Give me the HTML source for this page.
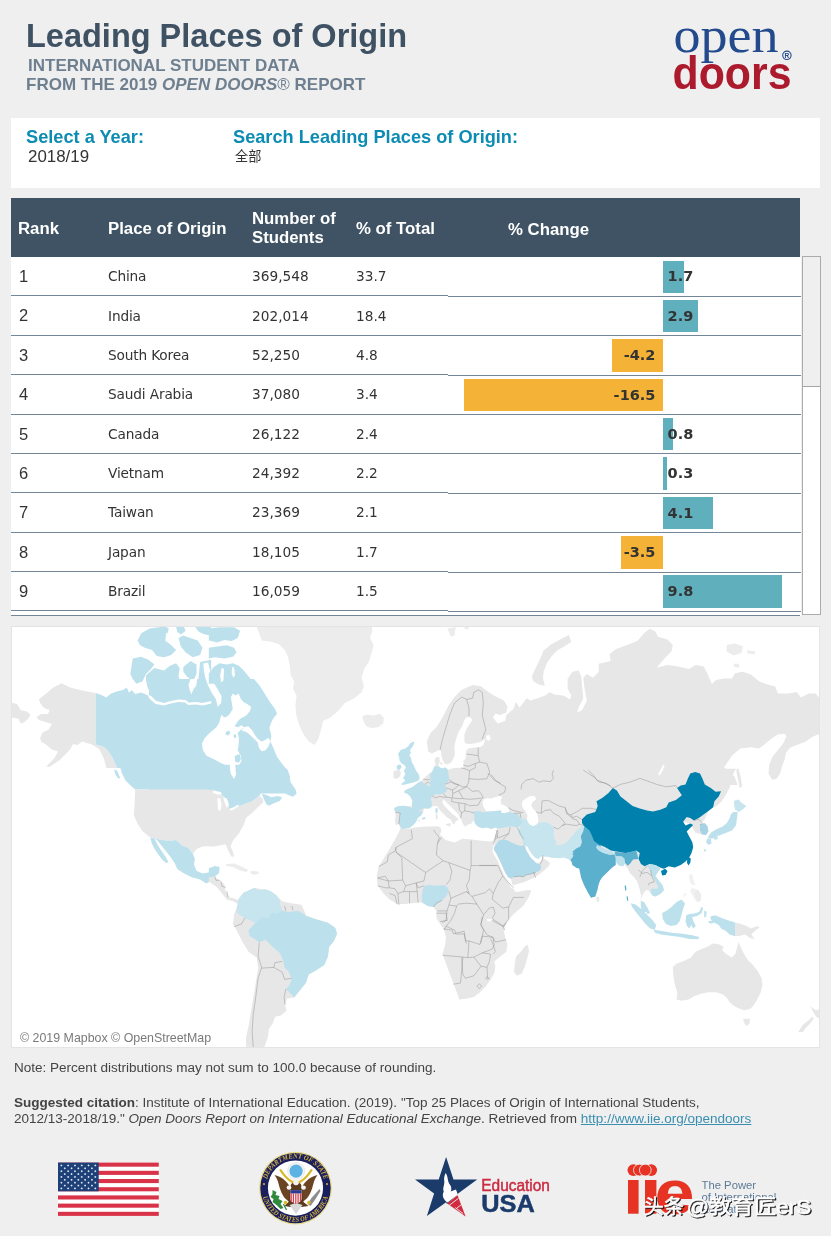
<!DOCTYPE html>
<html lang="en">
<head>
<meta charset="utf-8">
<title>Leading Places of Origin</title>
<style>
*{box-sizing:border-box;margin:0;padding:0}
html,body{width:831px;height:1236px;overflow:hidden;background:#efefef}
body{position:relative;font-family:"Liberation Sans","Noto Sans CJK SC",sans-serif;color:#333}
.abs{position:absolute;white-space:nowrap}
#title{left:26px;top:17px;font-size:32.5px;font-weight:bold;color:#3f5264;line-height:38px}
#sub1{left:28px;top:56.5px;font-size:17px;font-weight:bold;color:#6e7f8f;line-height:18px;white-space:pre}
#sub2{left:26px;top:75.6px;font-size:17px;font-weight:bold;color:#6e7f8f;line-height:18px}
#sub2 i{font-style:italic}
#sub2 .reg{font-weight:normal}
#filters{left:11px;top:118px;width:809px;height:70px;background:#fff}
.flabel{font-size:18.2px;font-weight:bold;color:#0d8cb3;line-height:20px}
.fval{font-size:16.9px;color:#333;line-height:18px}
#thead{left:11px;top:198px;width:789px;height:59px;background:#3f5364}
.th{color:#fff;font-weight:bold;font-size:16.8px;line-height:19px}
#tbody{left:11px;top:257px;width:790px;height:358.7px;background:#fff;overflow:hidden}
.row{position:absolute;left:0;width:789px;height:39px}
.row .rk{position:absolute;left:8px;top:9.2px;font-size:16.5px;line-height:20px;color:#333}
.row .c{position:absolute;top:10.3px;font-family:"DejaVu Sans","Liberation Sans",sans-serif;font-size:13.7px;line-height:18px;color:#333}
.hl{position:absolute;height:1px;background:#748595}
.row .nm{letter-spacing:-0.15px}
.bar{position:absolute;height:32.4px}
.bar.t{background:#5fafbc}
.bar.o{background:#f4b336}
.bl{position:absolute;font-family:"DejaVu Sans","Liberation Sans",sans-serif;font-weight:bold;font-size:14.5px;line-height:18px;color:#333}
#scroll{left:802px;top:256px;width:19.3px;height:359px;background:#fff;border:1px solid #ababab}
#thumb{left:803px;top:257px;width:17.3px;height:130.4px;background:#efefef;border-bottom:1.4px solid #a4a4a4}
#map{left:11px;top:626px;width:809px;height:422px;background:#fff;border:1px solid #e4e4e4;overflow:hidden}
#attr{left:20px;top:1030.8px;font-size:12.4px;color:#7a7a7a;line-height:14px}
#note{left:14px;top:1060px;font-size:13.52px;color:#444;line-height:16px}
#cite{left:14px;top:1095px;font-size:13.52px;color:#444;line-height:16px}
#cite a{color:#3a8fb0;text-decoration:underline}
</style>
</head>
<body>
<div id="title" class="abs">Leading Places of Origin</div>
<div id="sub1" class="abs">INTERNATIONAL STUDENT DATA</div>
<div id="sub2" class="abs">FROM THE 2019 <i>OPEN DOORS</i><span class="reg">®</span> REPORT</div>

<!-- LOGO -->
<svg class="abs" style="left:660px;top:15px" width="150" height="85" viewBox="660 15 150 85">
<text x="673.5" y="52.2" font-family="'Liberation Serif',serif" font-size="51" fill="#234a8c" textLength="105" lengthAdjust="spacingAndGlyphs">open</text>
<text x="672.5" y="89" font-family="'Liberation Sans',sans-serif" font-weight="bold" font-size="47" fill="#ab1a2d" textLength="119" lengthAdjust="spacingAndGlyphs">doors</text>
<circle cx="786.9" cy="55.3" r="4.2" fill="none" stroke="#234a8c" stroke-width="1.1"/>
<text x="786.9" y="57.6" font-family="'Liberation Sans',sans-serif" font-weight="bold" font-size="6.5" fill="#234a8c" text-anchor="middle">R</text>
</svg>
<!-- /LOGO -->

<div id="filters" class="abs">
  <div class="abs flabel" style="left:15px;top:9px">Select a Year:</div>
  <div class="abs fval" style="left:17px;top:29.7px">2018/19</div>
  <div class="abs flabel" style="left:222px;top:9px">Search Leading Places of Origin:</div>
  <div class="abs fval" style="left:224px;top:30px;font-size:13.2px">全部</div>
</div>

<div id="thead" class="abs">
  <div class="abs th" style="left:7px;top:21px">Rank</div>
  <div class="abs th" style="left:97px;top:21px">Place of Origin</div>
  <div class="abs th" style="left:241px;top:11px">Number of<br>Students</div>
  <div class="abs th" style="left:345px;top:21px">% of Total</div>
  <div class="abs th" style="left:497px;top:22px">% Change</div>
</div>

<div id="tbody" class="abs">
<!-- ROWS -->
<div class="row" style="top:-0.1px"><span class="rk">1</span><span class="c nm" style="left:97px">China</span><span class="c" style="left:241px">369,548</span><span class="c" style="left:345px">33.7</span><span class="bar t" style="left:652.0px;top:3.6px;width:20.6px"></span><span class="bl" style="left:656.6px;top:10.5px">1.7</span></div>
<div class="row" style="top:39.27px"><span class="rk">2</span><span class="c nm" style="left:97px">India</span><span class="c" style="left:241px">202,014</span><span class="c" style="left:345px">18.4</span><span class="bar t" style="left:652.0px;top:3.6px;width:35.1px"></span><span class="bl" style="left:656.6px;top:10.5px">2.9</span></div>
<div class="row" style="top:78.65px"><span class="rk">3</span><span class="c nm" style="left:97px">South Korea</span><span class="c" style="left:241px">52,250</span><span class="c" style="left:345px">4.8</span><span class="bar o" style="left:601.2px;top:3.6px;width:50.8px"></span><span class="bl" style="right:144.6px;top:10.5px">-4.2</span></div>
<div class="row" style="top:118.02px"><span class="rk">4</span><span class="c nm" style="left:97px">Saudi Arabia</span><span class="c" style="left:241px">37,080</span><span class="c" style="left:345px">3.4</span><span class="bar o" style="left:452.5px;top:3.6px;width:199.5px"></span><span class="bl" style="right:144.6px;top:10.5px">-16.5</span></div>
<div class="row" style="top:157.4px"><span class="rk">5</span><span class="c nm" style="left:97px">Canada</span><span class="c" style="left:241px">26,122</span><span class="c" style="left:345px">2.4</span><span class="bar t" style="left:652.0px;top:3.6px;width:9.7px"></span><span class="bl" style="left:656.6px;top:10.5px">0.8</span></div>
<div class="row" style="top:196.77px"><span class="rk">6</span><span class="c nm" style="left:97px">Vietnam</span><span class="c" style="left:241px">24,392</span><span class="c" style="left:345px">2.2</span><span class="bar t" style="left:652.0px;top:3.6px;width:3.6px"></span><span class="bl" style="left:656.6px;top:10.5px">0.3</span></div>
<div class="row" style="top:236.15px"><span class="rk">7</span><span class="c nm" style="left:97px">Taiwan</span><span class="c" style="left:241px">23,369</span><span class="c" style="left:345px">2.1</span><span class="bar t" style="left:652.0px;top:3.6px;width:49.6px"></span><span class="bl" style="left:656.6px;top:10.5px">4.1</span></div>
<div class="row" style="top:275.52px"><span class="rk">8</span><span class="c nm" style="left:97px">Japan</span><span class="c" style="left:241px">18,105</span><span class="c" style="left:345px">1.7</span><span class="bar o" style="left:609.7px;top:3.6px;width:42.3px"></span><span class="bl" style="right:144.6px;top:10.5px">-3.5</span></div>
<div class="row" style="top:314.9px"><span class="rk">9</span><span class="c nm" style="left:97px">Brazil</span><span class="c" style="left:241px">16,059</span><span class="c" style="left:345px">1.5</span><span class="bar t" style="left:652.0px;top:3.6px;width:118.5px"></span><span class="bl" style="left:656.6px;top:10.5px">9.8</span></div>
<div class="hl" style="left:0;width:437px;top:38.0px"></div><div class="hl" style="left:437px;width:352.5px;top:39.0px"></div>
<div class="hl" style="left:0;width:437px;top:78.0px"></div><div class="hl" style="left:437px;width:352.5px;top:78.0px"></div>
<div class="hl" style="left:0;width:437px;top:117.0px"></div><div class="hl" style="left:437px;width:352.5px;top:118.0px"></div>
<div class="hl" style="left:0;width:437px;top:156.5px"></div><div class="hl" style="left:437px;width:352.5px;top:157.0px"></div>
<div class="hl" style="left:0;width:437px;top:196.0px"></div><div class="hl" style="left:437px;width:352.5px;top:196.0px"></div>
<div class="hl" style="left:0;width:437px;top:235.0px"></div><div class="hl" style="left:437px;width:352.5px;top:236.0px"></div>
<div class="hl" style="left:0;width:437px;top:275.0px"></div><div class="hl" style="left:437px;width:352.5px;top:275.0px"></div>
<div class="hl" style="left:0;width:437px;top:314.0px"></div><div class="hl" style="left:437px;width:352.5px;top:314.5px"></div>
<div class="hl" style="left:0;width:437px;top:353.0px"></div><div class="hl" style="left:437px;width:352.5px;top:354.0px"></div>
<div class="hl" style="left:0;width:789px;top:357.70000000000005px"></div>
<!-- /ROWS -->
</div>
<div id="scroll" class="abs"></div>
<div id="thumb" class="abs"></div>

<div id="map" class="abs">
<!-- MAP -->
<svg width="807" height="420" viewBox="12 627 807 420" style="position:absolute;left:0;top:0;filter:blur(0.4px)">
<g stroke-linejoin="round">
<path fill="#e7e7e7" d="M38.9,699.4 46.1,693.4 53.3,687.4 61.7,683.3 70.2,687.4 82.2,690.5 95.7,692.9 95.7,744.4 102.7,746.3 107.5,749.9 112.3,757.2 117.1,768.0 106.3,768.0 103.9,758.4 99.0,748.7 91.8,744.4 82.2,741.5 77.4,745.1 73.1,743.9 70.2,749.2 65.8,754.0 59.3,760.3 49.7,766.8 46.1,766.8 54.5,757.9 58.1,751.6 51.4,749.2 46.1,744.4 41.3,742.0 40.1,737.9 42.5,732.4 48.5,729.5 52.1,724.0 46.1,722.3 38.9,719.9 36.5,717.0 41.3,714.1 48.0,714.1 49.7,710.2 43.7,707.8 40.1,703.0ZM10.0,701.8 17.2,704.2 20.8,710.2 26.8,711.4 30.5,715.0 28.1,718.7 24.4,722.3 20.8,723.5 18.4,718.7 12.4,717.5 10.0,717.5Z"/>
<path fill="#bde1ec" d="M95.7,692.9 101.5,695.1 106.3,697.5 111.1,693.4 118.3,691.0 123.1,690.0 126.7,687.4 129.1,692.7 131.5,690.0 135.2,693.9 141.2,692.4 147.2,695.1 152.0,698.7 156.8,703.5 164.0,702.1 168.8,699.6 176.1,697.2 179.7,701.1 185.7,703.5 191.7,698.7 196.5,695.1 200.1,698.7 202.5,701.1 211.2,698.2 211.2,741.5 202.5,739.1 200.1,746.3 202.5,753.6 211.2,757.9 211.2,768.0 117.1,768.0 112.3,757.2 107.5,749.9 102.7,746.3 95.7,744.4ZM132.7,658.5 141.2,656.8 148.4,659.7 154.4,664.5 150.8,669.3 146.0,674.1 142.4,681.4 136.4,683.8 132.7,678.9 130.3,674.1 131.5,665.7ZM146.0,675.3 154.4,668.1 164.0,670.5 170.0,665.7 176.1,663.3 179.7,668.1 178.5,676.5 182.1,683.8 188.1,689.8 186.9,695.8 178.5,697.0 170.0,698.2 164.0,700.6 156.8,698.2 150.8,694.6 147.2,686.2 146.0,680.2ZM137.6,640.4 141.2,633.2 149.6,628.4 159.2,627.2 166.4,633.2 165.2,640.4 171.3,645.3 176.1,650.1 171.3,654.9 164.0,657.3 156.8,656.1 152.0,650.1 144.8,647.7 140.0,645.3ZM178.5,638.0 183.3,635.6 190.5,638.0 197.7,640.4 202.5,647.7 200.1,654.9 192.9,657.3 185.7,652.5 180.9,646.5ZM159.2,627.2 164.0,626.0 168.8,628.4 167.6,633.2 164.0,632.0ZM176.1,627.2 183.3,626.0 185.7,630.8 180.9,634.4 177.3,632.0ZM195.3,627.2 202.5,626.0 211.2,627.2 211.2,635.6 204.9,634.4 198.9,632.0ZM183.3,666.9 190.5,660.9 196.5,664.5 196.5,674.1 192.9,681.4 186.9,676.5 183.3,671.7ZM200.1,662.1 211.2,659.7 211.2,697.0 202.5,693.4 197.7,686.2 198.9,674.1ZM149.0,679.0 254.0,679.0 259.7,685.8 264.6,693.5 269.4,701.2 275.1,708.9 277.1,713.7 273.2,718.5 270.9,723.3 269.4,728.1 271.3,735.8 270.3,741.6 273.2,747.4 277.1,757.0 282.8,764.7 287.7,770.5 289.6,776.3 290.5,782.0 294.4,787.8 296.3,793.6 149.0,793.6Z"/>
<path fill="#ffffff" d="M220.3,718.5 221.6,714.7 224.1,717.5 227.0,719.5 230.9,723.3 234.7,726.2 237.6,727.2 241.5,725.2 244.3,727.2 240.5,730.1 237.6,732.9 238.9,737.8 238.6,745.5 237.6,750.3 240.5,755.1 241.5,760.9 238.6,765.7 235.7,770.5 236.6,776.3 234.7,780.1 230.9,775.3 229.9,770.5 227.0,765.7 220.3,762.8 213.5,758.9 206.8,756.0 202.9,750.3 202.0,743.5 204.9,737.8 209.7,732.9 216.4,727.2 219.3,722.4ZM227.0,716.6 229.9,713.7 232.8,708.9 231.8,703.1 230.9,697.3 232.8,693.5 235.7,695.4 238.6,693.5 240.5,698.3 243.4,702.1 247.2,704.1 251.1,707.0 250.1,710.8 246.3,715.6 240.5,718.5 237.6,721.4 234.7,726.2 230.9,723.3 227.0,719.5 224.1,717.5ZM244.3,727.2 248.2,726.2 252.0,730.1 254.9,734.9 257.8,738.7 261.7,741.6 265.5,739.7 268.4,737.8 270.3,741.6 268.4,746.4 265.5,750.3 261.7,751.2 258.8,747.4 257.8,742.6 254.0,738.7 250.1,734.9 246.3,732.0 241.5,730.4ZM203.3,663.4 208.1,662.5 210.5,672.1 213.0,681.7 217.8,689.4 221.6,696.2 221.2,702.9 217.8,706.8 215.8,699.1 212.0,693.3 208.1,685.6 205.3,677.9 203.9,670.2ZM190.4,679.0 197.2,679.0 196.2,685.8 193.3,689.6 191.4,694.4 189.5,689.6 188.5,684.8ZM147.7,695.3 150.8,695.8 156.3,701.1 164.0,703.0 170.8,701.1 178.5,699.6 185.7,700.1 188.6,702.5 196.5,702.1 202.5,703.0 211.2,701.1 211.2,703.5 202.5,705.4 196.5,704.5 188.1,704.9 185.2,702.5 178.5,702.1 170.8,703.5 164.0,705.4 155.6,704.0 149.6,698.7Z"/>
<path fill="#bde1ec" d="M226.0,732.0 228.9,730.4 230.5,732.9 228.0,735.4 225.5,734.5ZM233.4,734.9 235.7,733.9 236.3,737.4 234.1,738.3ZM234.7,756.0 239.5,754.1 240.9,758.9 238.9,762.8 235.1,761.8Z"/>
<path fill="#ececec" d="M371.3,624.8 372.5,630.8 370.0,638.0 373.7,645.3 371.7,652.5 368.8,662.1 364.0,669.3 361.6,677.7 364.0,686.2 361.6,692.2 354.4,698.2 344.8,703.0 337.6,711.4 330.3,717.5 323.1,721.1 321.2,729.5 318.3,739.1 314.7,745.1 308.7,741.5 304.3,735.5 299.5,725.9 296.2,715.0 295.4,705.4 296.6,695.8 293.0,688.6 294.2,681.4 290.6,675.3 289.9,666.9 288.2,657.3 284.6,650.1 278.6,644.1 270.2,641.6 261.7,640.4 259.3,633.2 255.7,624.8ZM362.1,716.3 366.4,714.6 373.7,715.5 379.7,713.8 383.8,717.5 383.3,723.5 378.5,727.1 371.3,728.3 366.0,725.9 363.5,721.1Z"/>
<path fill="#bde1ec" d="M208.8,628.4 219.6,627.2 234.1,627.2 240.1,630.8 237.7,638.0 231.7,640.9 224.4,640.0 217.2,642.4 208.8,640.4ZM208.8,647.7 217.2,646.5 226.8,645.3 234.1,647.7 236.5,652.5 232.9,656.8 224.4,658.5 214.8,657.3 208.8,658.5ZM208.8,674.1 211.2,670.5 213.6,666.9 219.6,663.3 226.8,664.5 232.9,663.3 238.9,665.7 243.7,670.5 249.7,677.7 254.5,683.8 208.8,683.8Z"/>
<path fill="#ffffff" d="M221.6,668.1 224.0,668.8 223.5,680.2 221.1,682.6 220.1,675.3ZM232.1,666.9 234.1,667.4 235.0,675.3 233.1,677.7 231.7,672.9Z"/>
<path fill="#bde1ec" d="M211.2,764.8 211.2,792.0 204.9,791.3 200.1,789.6 135.2,789.6 130.3,785.3 125.5,780.4 121.9,773.2 119.5,764.8ZM114.0,769.6 117.1,770.8 120.2,778.0 118.3,778.5 115.4,774.4Z"/>
<path fill="#e7e7e7" d="M211.2,789.6 211.2,846.1 202.5,846.6 196.5,849.0 192.9,853.8 188.1,847.8 182.1,845.4 176.1,840.1 168.8,841.1 159.2,839.4 149.6,837.0 142.4,831.0 137.6,823.8 133.9,815.3 134.7,802.1 135.2,789.6Z"/>
<path fill="#bde1ec" d="M154.4,838.2 159.2,839.4 168.8,841.1 176.1,840.1 182.1,845.4 188.1,847.8 192.9,853.8 194.8,858.7 194.1,864.7 196.5,870.7 202.5,873.6 211.2,871.9 211.2,881.0 206.1,883.4 200.1,879.6 191.7,877.2 183.3,873.1 177.3,869.0 174.9,863.5 170.0,856.3 165.2,850.2 160.4,844.2 157.3,840.6ZM150.3,837.5 154.4,838.2 157.3,844.2 161.1,850.2 165.2,856.3 168.4,861.8 166.4,863.2 162.1,859.4 157.3,853.1 153.9,847.8 151.5,842.5ZM208.8,764.8 229.7,764.8 230.5,773.2 234.1,779.2 236.0,774.4 235.3,764.8 279.8,764.8 283.4,767.2 287.5,769.6 289.9,776.8 287.5,782.4 282.2,784.8 278.6,788.1 272.6,786.5 266.6,788.1 261.7,792.0 259.3,796.1 252.1,801.6 243.7,804.5 237.7,806.9 232.9,810.5 229.3,809.3 228.1,802.1 224.4,797.3 219.6,793.7 214.8,790.1 208.8,790.1ZM282.2,784.1 285.8,781.6 290.6,785.3 295.4,788.9 296.6,793.7 293.0,796.8 288.2,794.9 283.4,792.5 281.0,788.9ZM261.7,793.7 266.6,794.9 271.4,797.3 277.4,796.1 282.2,797.3 279.8,800.9 273.8,803.3 269.0,805.7 266.6,804.5 264.2,799.7Z"/>
<path fill="#e7e7e7" d="M208.8,790.1 214.8,790.1 219.6,793.7 224.4,797.3 228.1,802.1 229.3,809.3 232.9,810.5 237.7,806.9 243.7,804.5 252.1,801.6 259.3,796.1 262.5,798.5 263.4,802.1 258.1,806.9 252.1,812.9 246.1,817.7 243.7,825.0 238.9,833.4 232.9,840.6 230.5,846.6 232.9,851.4 234.1,856.3 231.7,857.0 228.1,850.2 225.6,844.2 219.6,845.4 213.6,846.6 208.8,846.6Z"/>
<path fill="#ffffff" d="M213.6,790.8 220.8,792.0 222.0,794.4 217.2,794.4 212.9,793.0ZM217.2,798.5 220.1,797.8 221.6,804.5 220.6,810.5 218.2,810.5 217.7,804.5ZM223.2,797.3 226.8,798.5 228.8,804.5 226.8,808.1 224.4,802.1ZM229.7,808.8 234.1,806.9 238.4,804.5 238.9,806.0 234.1,809.3 230.7,810.8Z"/>
<path fill="#ececec" d="M225.6,864.2 234.1,863.5 241.3,866.6 248.5,870.0 246.1,871.9 238.9,870.0 232.9,867.1 226.8,865.9ZM250.9,870.7 258.1,871.4 259.3,873.8 253.3,874.8 250.4,873.1Z"/>
<path fill="#bde1ec" d="M208.8,868.3 214.8,865.9 219.6,867.1 219.1,873.1 214.8,876.7 208.8,877.2Z"/>
<path fill="#e7e7e7" d="M208.8,877.2 214.8,876.7 219.6,880.3 224.4,883.9 225.6,891.2 229.3,897.2 234.1,898.4 240.1,900.8 238.9,904.4 232.9,901.3 226.8,899.6 222.0,893.6 217.2,887.5 212.4,883.9 208.8,881.5ZM234.1,914.4 237.7,904.8 238.9,898.8 243.7,892.8 254.5,887.9 265.4,889.6 276.2,895.2 282.2,901.2 289.4,903.1 296.6,904.1 301.5,904.8 306.3,915.6 315.9,919.2 327.9,922.8 335.2,927.7 337.1,933.7 333.9,940.9 329.1,946.9 327.9,956.5 324.3,965.0 315.9,970.5 308.7,974.6 305.8,983.0 299.0,991.4 294.2,997.5 287.0,998.7 285.1,1004.7 286.5,1010.7 281.0,1015.5 275.0,1016.7 273.1,1022.7 269.0,1028.7 267.8,1037.2 264.2,1048.0 246.1,1048.0 246.1,1037.2 248.5,1026.3 250.9,1011.9 253.3,997.5 255.7,983.0 258.1,968.6 256.9,957.7 248.5,951.7 242.5,942.1 236.5,930.1 232.9,924.1Z"/>
<path fill="#bde1ec" d="M237.7,904.8 238.9,898.8 243.7,892.8 254.5,887.9 258.1,890.4 265.4,889.6 270.2,891.1 276.2,895.2 279.8,900.7 279.8,904.8 282.2,910.8 289.4,912.0 297.8,910.8 302.7,913.2 306.3,916.1 315.9,919.2 327.9,922.8 335.2,927.7 337.1,933.7 333.9,940.9 329.1,946.9 327.9,956.5 324.3,965.0 315.9,970.5 308.7,974.6 305.8,983.0 299.0,991.4 294.2,997.5 289.4,992.2 285.8,989.0 289.4,985.4 291.8,978.2 288.2,971.0 284.6,967.4 283.4,961.4 279.8,952.9 273.8,948.1 267.8,942.1 265.4,939.7 259.3,942.6 255.7,939.7 249.7,936.1 248.5,930.1 252.1,926.5 255.7,922.8 250.9,920.4 244.9,918.0 240.1,914.4 236.5,912.0Z"/>
<path fill="#e7e7e7" d="M428.1,751.2 426.8,741.5 430.5,733.1 436.5,727.1 442.5,717.5 448.5,705.4 454.5,697.0 461.7,689.8 472.6,685.0 481.0,686.2 487.0,691.0 494.2,695.8 503.9,700.6 507.5,706.6 506.3,712.6 500.3,715.0 495.4,713.8 493.0,717.5 497.8,723.5 505.1,721.1 506.3,715.0 513.5,709.0 515.9,701.8 519.5,707.8 526.7,698.2 530.3,700.6 537.6,698.2 544.8,695.8 549.6,692.2 554.4,694.6 564.0,695.8 570.0,699.4 571.3,695.8 567.6,688.6 567.6,678.9 572.5,671.7 578.5,670.5 581.4,676.5 582.1,686.2 583.3,698.2 578.5,707.8 577.3,712.6 582.1,710.2 586.9,700.6 584.5,688.6 583.3,677.7 586.9,674.1 592.9,677.7 598.9,671.7 602.5,666.9 611.2,663.3 611.2,768.0 462.5,768.0 462.9,764.9 464.4,762.0 465.1,757.6 465.8,753.3 466.6,749.7 469.4,748.3 475.2,747.5 481.0,746.8 483.4,745.1 485.3,739.1 481.0,741.8 475.2,743.2 469.4,743.9 465.1,743.2 464.4,740.3 464.4,734.5 466.6,728.8 469.4,724.4 472.3,720.1 470.2,717.2 466.6,717.2 464.4,720.1 462.2,725.9 458.6,731.7 456.5,737.4 455.0,743.2 454.3,747.5 455.0,753.3 453.6,757.6 451.4,762.0 447.8,764.6 444.2,763.4 442.0,757.6 440.6,749.7 438.9,749.9 431.7,753.6ZM568.8,635.1 571.3,641.9 564.5,646.2 557.8,650.1 552.0,655.8 547.2,662.6 543.8,670.8 542.9,677.7 544.8,685.7 538.8,684.5 533.2,680.9 531.8,676.5 535.2,668.8 540.0,659.2 543.6,650.5 551.3,644.3 560.2,639.5Z"/>
<path fill="#ececec" d="M447.3,628.4 455.7,627.2 454.5,635.6 450.9,636.8ZM464.2,626.5 469.0,626.5 467.8,629.6 464.9,628.9Z"/>
<path fill="#e7e7e7" d="M598.7,663.7 610.8,661.0 609.4,654.3 616.2,648.9 627.0,644.9 637.7,640.8 644.5,632.7 649.9,628.7 655.3,631.4 658.0,636.8 667.4,639.5 672.8,644.9 671.4,651.6 664.7,658.3 656.6,667.8 667.4,665.1 678.2,666.4 688.9,669.1 695.7,665.1 703.8,666.4 707.8,674.5 711.9,684.0 715.9,679.9 724.0,678.6 732.1,678.6 734.8,673.2 742.9,671.8 750.9,674.5 759.0,681.3 765.8,684.0 775.2,686.6 777.9,693.4 788.7,693.4 796.8,692.0 800.8,697.4 808.9,693.4 815.6,693.4 818.9,697.4 823.7,698.8 823.7,732.5 812.9,736.5 804.9,741.9 798.1,744.6 790.0,747.8 786.0,752.7 784.6,759.4 781.9,766.7 780.1,773.4 776.5,779.1 772.0,779.6 768.5,773.7 769.3,764.8 772.5,756.7 777.9,750.0 783.3,743.3 786.5,736.5 784.6,733.8 777.9,734.4 771.2,738.7 764.4,744.6 759.0,748.6 750.9,747.3 740.2,748.6 732.1,755.4 724.0,767.5 729.4,771.6 734.8,776.9 737.5,785.0 598.7,785.0Z"/>
<path fill="#ececec" d="M726.7,644.9 734.8,643.5 742.9,646.2 741.5,653.0 733.4,655.6 726.7,651.6ZM746.9,650.3 755.0,651.6 755.0,654.3 747.7,653.5ZM733.4,663.7 738.8,663.7 739.6,667.8 734.2,667.0Z"/>
<path fill="#e7e7e7" d="M395.9,825.3 394.9,821.0 395.6,816.6 395.2,812.3 394.4,810.2 394.4,808.0 398.1,806.3 403.1,805.8 408.9,806.5 412.1,805.8 412.5,800.8 410.3,796.4 407.4,793.8 404.5,792.8 404.5,790.7 408.9,788.5 412.5,787.0 416.1,784.2 419.0,782.0 421.2,781.3 423.3,779.1 427.7,774.8 430.5,772.6 432.0,771.9 433.4,769.0 434.2,766.8 435.6,764.7 434.6,761.1 435.6,757.4 439.2,756.7 439.9,761.8 438.5,765.4 441.4,768.3 445.7,767.6 447.9,769.7 452.2,768.3 458.0,767.6 463.0,768.3 463.8,764.7 463.0,761.1 465.2,758.9 466.6,755.3 500.7,755.3 500.7,842.6 401.7,842.6 401.7,829.6 400.2,826.8 398.8,823.9ZM489.3,767.8 612.0,767.8 612.0,856.6 489.3,856.6ZM568.8,768.8 736.1,768.8 733.7,772.4 730.0,786.8 726.4,794.1 721.6,801.3 716.8,806.1 713.2,807.3 708.4,810.9 704.8,819.3 701.2,822.9 700.0,824.9 700.0,830.2 701.9,834.5 695.2,832.6 690.3,823.4 683.1,821.7 686.7,831.4 689.1,836.2 692.3,842.2 693.2,847.0 691.5,853.0 689.1,857.8 685.5,861.5 680.7,865.1 674.7,867.5 668.7,866.3 663.9,868.7 660.3,868.7 657.8,872.3 655.4,875.9 659.0,880.7 662.7,885.5 663.9,890.3 660.3,893.9 655.4,896.4 652.3,895.2 648.2,890.3 645.8,890.3 642.2,895.2 641.0,900.0 642.2,904.8 644.6,908.4 647.0,912.0 641.7,912.0 640.5,904.8 641.0,895.2 639.3,887.9 636.9,880.7 633.8,877.1 630.2,873.5 627.8,868.7 624.2,863.9 621.7,866.3 618.1,865.1 615.7,861.5 615.7,865.1 612.1,867.5 607.3,872.3 602.5,877.1 598.9,881.9 597.7,889.1 595.3,896.4 591.7,897.6 588.1,891.5 584.9,884.3 582.0,875.9 579.6,868.7 576.0,867.5 572.4,865.1 571.2,860.3 568.8,859.5ZM570.2,825.2 570.2,860.2 568.1,858.9 563.7,857.3 557.9,858.1 552.1,857.7 547.9,856.8 543.5,855.2 542.9,854.8 544.2,858.9 547.1,860.4 550.0,863.1 549.2,865.4 545.0,869.7 540.6,873.3 535.6,877.0 529.0,879.9 523.3,882.4 517.5,884.1 512.5,885.6 513.2,888.5 515.4,892.0 520.4,891.4 526.1,890.3 530.6,889.9 530.8,892.0 529.0,896.4 526.1,901.4 523.1,906.0 517.1,910.9 510.9,916.8 506.3,922.8 503.8,929.9 505.0,937.2 507.5,944.6 446.0,943.6 446.0,937.8 444.1,930.1 440.3,924.3 436.4,918.6 436.4,910.9 433.5,907.0 427.8,906.0 421.0,902.2 412.4,903.2 404.7,904.1 397.0,904.1 389.3,899.3 383.5,893.5 377.7,885.8 376.7,876.2 378.7,866.6 383.5,858.9 389.3,849.3 395.0,839.6 398.9,831.9 401.8,825.2ZM523.1,904.8 517.1,910.8 511.1,916.8 506.3,922.8 503.9,930.1 505.1,937.3 507.5,944.5 506.3,951.7 500.3,956.5 494.2,961.4 495.4,966.2 494.2,973.4 490.6,979.4 485.8,986.6 479.8,992.6 473.8,997.0 466.6,998.7 459.3,999.4 456.9,992.6 453.3,983.0 449.7,973.4 446.1,963.8 442.5,954.1 444.9,945.7 446.1,937.3 443.7,928.9 440.1,920.4 436.5,913.2 435.3,904.8ZM527.4,944.5 529.1,950.5 527.4,957.7 525.0,966.2 521.9,973.4 517.1,975.8 514.0,972.2 514.7,965.0 515.9,956.5 520.7,951.7 524.3,946.9Z"/>
<path fill="#ffffff" d="M486.5,735.5 489.4,734.8 490.9,738.6 488.5,741.0 486.1,739.1ZM439.9,761.8 441.4,760.3 443.5,761.1 444.3,757.4 443.5,755.3 466.6,755.3 465.2,758.9 463.0,761.1 463.8,764.7 463.0,768.3 458.0,767.6 452.2,768.3 447.9,769.7 445.7,767.6 441.4,768.3 438.5,765.4ZM402.4,829.2 405.3,828.5 409.6,827.8 413.2,825.0 416.1,821.7 417.8,818.1 421.2,815.2 423.3,811.6 424.0,808.7 428.4,808.7 431.3,807.3 433.7,805.8 437.8,806.5 439.9,810.2 443.5,813.8 447.1,817.4 450.8,819.5 452.2,823.1 454.4,824.6 455.1,821.7 458.7,819.5 460.1,818.1 461.6,820.3 463.0,823.9 465.2,826.8 468.1,824.6 471.0,823.9 473.9,820.3 475.3,823.9 478.2,826.8 482.5,828.2 486.9,827.5 491.2,828.9 495.5,827.5 497.3,829.4 495.5,834.0 494.1,838.0 493.2,840.6 489.3,841.6 479.6,840.6 472.0,839.6 462.5,838.7 454.7,842.5 447.0,840.6 444.3,839.0 442.8,836.9 439.9,834.7 441.4,831.1 440.6,827.5 437.8,826.3 427.7,826.5 417.5,827.0 411.0,828.2ZM443.5,799.3 445.7,801.5 449.3,805.1 453.6,809.4 458.0,813.8 460.1,818.1 458.7,819.5 455.8,816.6 452.2,813.8 447.9,809.4 444.3,805.8 442.1,802.2ZM484.0,799.3 488.3,797.9 492.6,800.8 495.5,797.9 500.7,796.4 501.3,810.2 495.5,810.9 489.7,811.6 486.1,810.9 483.2,806.5 482.5,802.2ZM489.3,798.9 494.3,797.4 498.7,796.0 502.3,796.7 500.8,800.3 497.9,802.5 503.0,804.7 508.1,807.5 509.5,811.9 504.4,813.3 498.7,812.6 494.3,811.2 489.3,811.2ZM522.5,801.0 526.1,798.2 530.4,796.0 534.8,796.0 536.2,799.6 532.6,801.8 531.2,805.4 533.3,809.0 536.2,811.9 537.7,816.2 538.4,821.3 536.2,824.9 532.6,826.3 529.0,824.2 526.8,820.5 527.5,815.5 525.4,811.2 522.5,807.5 521.8,803.9ZM492.3,851.7 493.3,845.9 494.4,841.6 495.2,841.8 494.4,846.6 494.4,850.9 496.6,854.5 499.5,860.3 502.4,866.8 505.3,873.3 508.2,877.7 511.0,879.1 512.5,884.9 513.2,888.5 511.0,887.8 508.9,883.4 506.0,879.1 503.1,873.3 500.2,866.8 497.3,860.3 494.4,855.3ZM525.1,845.6 526.9,845.6 529.1,849.5 531.7,853.8 534.9,857.4 538.5,858.9 541.4,855.7 542.8,854.8 542.4,858.2 540.6,861.5 537.8,862.9 534.9,862.1 532.0,859.6 529.1,856.0 526.9,851.7 525.5,848.1ZM658.0,774.2 663.3,764.8 664.7,766.2 659.8,775.6ZM486.7,918.9 491.7,918.9 490.9,921.3 487.3,921.3Z"/>
<path fill="#e7e7e7" d="M454.8,754.8 453.6,757.7 451.5,762.1 447.9,764.5 444.3,763.5 442.1,757.7 441.4,754.8ZM440.1,762.6 442.1,762.2 442.4,764.4 440.4,764.8ZM445.7,823.9 450.8,823.1 450.0,826.8 446.4,825.3ZM435.6,814.5 437.5,814.1 437.8,818.8 436.0,819.5ZM393.7,771.2 398.8,769.7 400.9,771.9 400.2,776.2 396.6,779.1 393.3,777.7Z"/>
<path fill="#bde1ec" d="M400.5,755.3 409.2,755.3 411.0,757.7 411.8,762.1 413.9,765.7 416.1,770.7 418.7,774.3 419.7,777.9 418.3,780.8 413.2,782.4 408.2,783.7 403.1,784.9 400.9,784.2 405.3,780.8 403.1,777.9 405.3,774.3 403.8,770.7 406.0,767.8 404.3,765.0 401.7,763.5 399.5,760.6 399.1,757.0ZM413.2,741.6 414.4,742.6 412.9,746.2 411.0,748.4 409.9,750.5 411.0,752.7 409.2,755.6 398.5,756.6 398.1,753.7 400.9,749.8 405.3,748.4 408.2,746.2 410.3,743.3ZM396.6,765.7 400.2,764.3 401.7,767.1 399.5,770.0 397.0,769.3ZM404.5,790.7 408.9,788.5 412.5,787.0 416.1,784.2 419.0,782.0 421.2,781.3 424.8,784.2 428.4,785.6 430.5,787.0 434.9,788.5 437.0,791.4 435.6,794.3 432.0,795.7 430.8,799.3 432.0,803.7 431.3,807.3 428.4,808.7 424.0,808.0 420.4,810.2 416.8,811.6 414.7,810.2 412.5,808.7 411.8,805.1 412.5,800.8 410.3,796.4 407.4,793.8 404.5,792.8ZM394.4,808.0 398.1,806.3 403.1,805.8 408.9,806.5 412.5,808.7 416.8,810.9 423.3,811.6 421.2,815.2 417.8,818.1 416.1,821.7 413.2,825.0 409.6,827.8 405.3,828.5 402.4,829.2 400.2,826.8 398.8,823.9 399.5,818.1 400.2,813.0 395.9,811.6 394.4,810.2ZM434.2,766.8 437.8,766.1 441.4,768.3 445.7,767.6 447.9,769.7 448.6,774.8 449.3,779.8 447.9,782.0 445.0,784.2 445.7,787.8 447.1,790.7 443.5,793.5 439.2,794.3 435.6,794.3 437.0,791.4 434.9,788.5 430.5,787.0 429.8,783.4 430.5,779.1 429.8,774.8 432.0,771.9 433.4,769.0ZM435.6,808.3 437.5,808.0 437.8,811.6 436.6,813.8 435.3,812.3ZM421.9,818.1 424.8,816.9 425.5,818.8 422.6,819.8ZM418.3,820.3 419.7,819.8 419.7,821.3 418.3,821.3ZM473.1,811.6 476.0,811.2 478.2,810.9 484.0,812.3 489.7,811.6 495.5,810.9 501.3,810.2 501.3,828.2 495.5,827.5 491.2,828.9 486.9,827.5 482.5,828.2 478.2,826.8 475.3,823.9 473.9,819.5 474.6,815.9 473.6,813.8ZM489.3,811.2 498.7,812.6 504.4,813.3 509.5,811.9 513.8,813.3 518.9,814.8 520.3,819.1 522.5,822.0 521.0,825.6 517.4,827.8 511.7,826.3 507.3,827.0 503.0,827.8 498.7,828.5 494.3,827.0 489.3,827.8Z"/>
<path fill="#c6e5ef" d="M520.3,819.1 524.7,818.4 527.3,820.5 529.0,824.2 532.6,826.3 536.2,824.9 539.1,822.7 544.9,822.0 549.2,823.4 553.5,827.0 554.3,832.1 552.8,836.4 555.0,840.8 554.3,845.1 557.9,846.5 562.2,845.1 566.5,840.0 570.9,837.1 575.2,834.3 576.6,830.6 579.5,827.8 583.9,825.6 586.8,827.8 588.9,830.6 585.3,832.1 582.4,833.5 581.7,837.9 583.9,840.8 580.3,845.1 576.6,848.7 573.8,852.3 573.0,856.6 539.1,856.6 534.8,852.3 531.9,848.7 529.0,845.8 526.1,846.5 523.9,843.6 523.9,839.3 521.0,835.0 518.9,830.6 521.0,825.6 522.5,822.0ZM586.9,829.3 584.0,831.4 582.5,834.3 584.0,838.7 583.2,842.3 581.1,845.9 576.0,848.8 572.4,851.7 574.6,853.8 572.4,857.4 570.3,860.3 568.1,858.9 563.8,857.4 558.0,858.2 552.2,857.7 547.9,856.7 543.5,855.3 541.4,855.7 538.5,858.9 534.9,857.4 531.7,853.8 529.1,849.5 526.9,845.6 525.1,845.6 523.3,842.3 521.9,837.9 519.0,834.3 518.3,829.3Z"/>
<path fill="#e7e7e7" d="M581.1,826.4 579.6,829.3 576.0,831.4 574.6,835.1 572.4,838.7 568.1,840.8 564.5,843.7 559.4,845.2 555.1,844.4 556.5,841.6 554.4,838.7 553.6,834.3 554.4,826.4Z"/>
<path fill="#b0d9e9" d="M493.7,848.1 498.8,840.8 503.1,839.4 506.7,840.1 511.0,842.3 516.1,844.4 520.4,845.9 523.3,845.2 525.1,846.6 526.2,850.2 528.4,853.8 530.5,857.4 533.4,860.3 536.3,863.2 539.9,864.7 541.4,866.8 539.9,870.4 535.6,872.6 530.5,874.0 526.2,874.8 523.3,876.9 519.0,876.2 513.9,876.9 511.0,878.4 508.2,876.9 505.3,872.6 502.4,866.1 499.5,859.6 496.6,853.8 494.4,850.2Z"/>
<path fill="#bde1ec" d="M523.3,842.3 525.1,842.7 525.5,845.6 523.8,845.2ZM423.9,885.8 429.7,884.9 437.4,885.8 444.1,884.9 448.0,887.8 448.9,891.6 446.0,896.4 442.2,900.3 437.4,903.2 433.5,907.0 427.8,906.0 422.0,902.2 421.6,895.5 422.9,889.7Z"/>
<path fill="#c6e5ef" d="M584.0,825.6 584.4,826.6 583.2,831.4 580.8,836.2 582.0,842.2 579.6,848.2 574.8,850.6 572.4,854.2 568.8,854.2 568.8,839.8 571.0,837.1 576.7,830.6Z"/>
<path fill="#5bb0cd" d="M584.4,826.6 589.3,830.2 591.7,835.0 594.1,841.0 598.9,844.6 596.0,847.5 598.4,850.6 603.7,853.0 609.7,854.7 614.5,854.2 615.7,857.8 615.7,865.1 612.1,867.5 607.3,872.3 602.5,877.1 598.9,881.9 597.7,889.1 595.3,896.4 591.7,897.6 588.1,891.5 584.9,884.3 582.0,875.9 579.6,868.7 576.0,867.5 572.4,865.1 571.2,860.3 576.0,859.0 572.4,854.2 574.8,850.6 579.6,848.2 582.0,842.2 580.8,836.2 583.2,831.4ZM614.5,851.8 625.4,853.0 631.4,851.8 636.2,850.6 638.6,859.0 633.1,859.5 630.2,863.4 627.8,865.8 624.9,862.7 624.2,858.6 621.7,856.6 615.7,856.2ZM570.3,860.3 572.4,857.4 574.6,853.8 572.4,851.7 576.0,848.8 581.1,845.9 583.2,842.3 584.0,838.7 582.5,834.3 584.0,831.4 586.9,829.3 591.2,829.3 591.9,832.9 594.1,837.9 597.0,840.8 600.7,843.0 600.7,879.1 598.4,884.9 596.2,889.2 594.1,893.5 591.9,897.9 590.5,897.1 587.6,892.1 584.0,884.9 581.1,877.7 579.6,870.4 578.9,866.1 576.8,868.3 574.6,866.1 572.4,862.5Z"/>
<path fill="#bde1ec" d="M615.7,856.2 621.7,856.6 624.2,858.6 624.9,862.7 623.4,866.3 619.3,865.8 616.2,862.7ZM597.0,845.1 600.1,846.5 606.1,849.4 612.1,851.8 614.5,854.2 609.7,854.7 603.7,853.0 598.4,850.6 596.0,847.5Z"/>
<path fill="#0080ad" d="M582.0,819.3 586.8,814.5 595.3,812.1 597.7,806.1 596.5,801.3 602.5,797.7 608.5,792.9 612.8,788.1 616.9,790.5 620.5,796.5 626.6,801.3 632.6,806.1 639.8,808.5 647.0,810.4 653.0,811.4 660.3,809.7 666.3,807.3 668.7,802.5 675.9,800.1 681.9,795.3 679.5,791.7 677.1,788.1 680.7,785.6 685.5,784.4 687.9,778.4 690.3,773.6 695.2,771.9 700.0,773.6 702.4,778.4 704.8,784.4 710.8,788.1 715.6,791.7 721.1,791.2 718.7,796.5 714.4,801.3 713.2,807.3 708.4,810.9 703.6,814.5 698.8,818.1 693.9,820.5 690.3,818.1 686.7,816.9 683.1,821.7 685.5,825.4 690.3,823.4 693.2,824.9 689.1,829.0 686.7,831.4 689.1,836.2 692.3,842.2 693.2,847.0 691.5,853.0 689.1,857.8 685.5,861.5 680.7,865.1 674.7,867.5 668.7,866.3 663.9,868.7 660.3,867.5 655.4,865.1 649.4,863.9 644.6,866.3 641.0,863.9 638.6,859.0 639.8,853.0 636.2,850.6 631.4,851.8 625.4,853.0 618.1,851.8 610.9,850.6 604.9,847.0 598.9,844.6 594.1,841.0 591.7,835.0 589.3,830.2 584.4,826.6 582.0,822.9ZM661.0,871.1 665.1,868.7 667.5,871.1 665.8,874.7 662.2,875.4ZM688.4,857.1 690.8,858.6 690.3,862.7 688.4,865.5 687.0,862.7 687.2,859.0Z"/>
<path fill="#bde1ec" d="M647.0,865.8 651.8,864.3 656.6,865.8 660.3,868.7 657.8,872.3 655.4,875.9 659.0,880.7 662.7,885.5 663.9,890.3 660.3,893.9 655.4,896.4 652.3,895.2 654.2,891.5 657.8,889.1 657.8,885.5 654.2,879.5 651.3,873.5 649.4,869.2ZM641.5,901.2 644.6,904.8 647.0,912.0 642.2,912.0 641.0,906.0Z"/>
<path fill="#a6d3e4" d="M700.0,824.2 704.8,822.9 707.7,826.6 708.4,831.4 706.0,835.0 701.9,834.5 700.0,830.2Z"/>
<path fill="#c6e5ef" d="M734.1,800.8 738.5,799.4 742.1,803.2 746.4,806.1 742.8,809.2 739.0,811.9 735.1,809.7 734.1,804.9Z"/>
<path fill="#bde1ec" d="M733.2,812.1 737.7,812.1 737.0,818.1 736.1,824.9 732.2,830.2 726.9,832.6 721.6,834.5 716.8,836.4 712.0,838.8 707.7,837.4 711.0,832.6 716.3,829.2 722.3,826.8 726.9,822.9 729.8,817.7 730.8,814.5ZM707.2,838.6 710.8,838.6 711.5,843.4 708.4,845.1 706.0,842.2ZM713.9,837.4 718.0,836.7 717.3,839.3 714.4,839.8ZM704.3,848.9 706.2,849.9 705.3,851.8 703.6,850.9Z"/>
<path fill="#e7e7e7" d="M738.5,768.8 740.9,777.2 742.1,786.8 739.7,788.1 738.0,779.6 736.5,772.4 736.5,768.8ZM596.5,896.4 599.4,897.6 598.9,901.9 596.5,901.2Z"/>
<path fill="#f1f1f1" d="M689.1,874.7 692.3,874.0 693.2,879.5 695.2,884.3 693.2,885.5 690.3,883.1 689.1,878.3ZM691.5,887.9 696.4,889.1 700.0,892.7 701.2,898.8 698.8,902.4 695.2,900.0 692.7,895.2 690.3,891.5ZM683.1,895.2 685.5,892.7 686.7,893.9 683.6,897.6Z"/>
<path fill="#bde1ec" d="M630.8,903.2 635.6,904.4 641.7,909.3 647.7,915.3 652.5,920.1 656.1,924.9 654.9,929.7 650.1,928.5 645.3,923.7 640.5,917.7 635.6,911.7 632.0,906.8ZM640.5,900.8 644.1,902.0 647.7,908.1 650.1,912.9 647.7,914.1 644.1,909.3 641.7,904.4ZM653.7,929.7 662.1,930.9 671.7,932.8 682.6,933.8 692.2,935.2 699.4,936.9 698.2,939.3 689.8,938.9 680.2,936.9 670.5,935.7 660.9,934.5 654.9,932.8ZM662.1,912.9 666.9,910.5 671.7,906.8 676.6,902.0 681.4,899.6 685.0,903.2 683.1,909.3 681.4,915.3 679.7,921.3 676.6,924.9 670.5,926.1 665.7,923.7 662.8,918.9ZM686.2,915.3 689.8,914.1 694.6,913.6 699.4,911.7 701.3,906.8 703.0,908.1 701.8,912.9 697.0,916.0 692.2,917.0 693.4,921.3 695.8,926.1 693.4,928.5 691.0,924.9 689.3,928.5 686.9,926.1 685.5,921.3ZM704.2,910.5 706.6,911.7 706.2,916.5 704.2,917.7ZM707.8,921.3 712.7,920.8 715.1,922.5 710.3,923.7ZM710.3,916.5 715.1,915.3 721.1,917.7 727.1,920.1 735.0,922.5 735.0,936.2 729.5,934.5 725.9,930.9 721.1,928.5 718.7,924.9 713.9,922.5 711.0,920.1Z"/>
<path fill="#e7e7e7" d="M735.0,922.5 740.3,923.7 746.4,926.1 751.2,928.5 757.2,926.1 759.6,927.3 754.8,930.9 751.2,934.5 754.8,939.3 750.0,938.1 745.2,934.5 740.3,935.7 735.0,936.2Z"/>
<path fill="#ececec" d="M694.6,891.2 698.2,890.0 701.3,894.8 700.6,900.8 697.0,902.0 695.1,897.2Z"/>
<path fill="#bde1ec" d="M651.3,888.8 660.9,888.8 658.5,893.6 653.7,896.0 650.8,893.6Z"/>
<path fill="#e7e7e7" d="M672.9,967.0 676.6,963.4 683.8,961.0 691.0,957.4 695.8,951.4 701.8,949.0 707.8,946.6 712.7,943.4 718.7,944.2 723.5,946.6 722.3,950.2 725.9,953.8 731.9,957.4 735.5,953.8 737.4,946.6 738.4,941.7 740.3,946.6 743.9,953.8 747.6,959.8 752.4,964.6 757.2,970.6 761.5,977.8 762.5,985.1 760.8,992.3 757.2,999.5 753.6,1005.5 750.0,1009.1 743.9,1010.3 737.9,1007.9 733.1,1005.5 729.5,1001.9 727.1,998.3 723.5,994.7 716.3,992.3 709.0,992.3 701.8,993.5 694.6,995.9 688.6,999.5 681.4,1000.7 676.6,999.5 677.3,992.3 674.9,985.1 673.4,976.6ZM743.2,1018.8 750.0,1018.8 749.5,1023.6 746.4,1026.0 743.9,1022.4ZM810.1,1005.5 812.5,1007.9 816.1,1010.3 821.2,1009.1 821.2,1020.0 816.1,1016.4 813.7,1012.7ZM798.1,1032.0 802.9,1024.8 808.9,1020.0 812.5,1016.4 813.7,1018.8 810.1,1023.6 805.3,1028.4 802.9,1032.0Z"/>
<path fill="#c6e5ef" d="M237.7,904.8 238.9,898.8 243.7,892.8 254.5,887.9 258.1,890.4 265.4,889.6 270.2,891.1 276.2,895.2 279.8,900.7 279.8,904.8 282.2,910.8 277.4,913.7 272.1,912.7 267.8,918.5 261.7,917.6 255.7,922.8 250.9,920.4 244.9,918.0 240.1,914.4 236.5,912.0Z"/>
<path fill="#5bb0cd" d="M624.6,885.8 626.0,885.4 626.4,890.0 625.2,890.8ZM626.5,896.6 627.7,896.2 628.3,900.4 627.1,900.8Z"/>
</g>
<path fill="none" stroke="#8a8a8a" stroke-width="0.45" d="M244.9,918.0 241.3,924.1 234.1,926.5M259.3,942.6 258.1,956.5 261.7,967.4 258.1,978.2 255.7,997.5 253.3,1014.3 252.1,1031.2 253.3,1048.0M261.7,968.1 273.8,967.4 275.0,962.6 282.2,961.4M273.8,967.4 282.2,972.2 284.6,979.4 291.8,978.2M285.8,989.0 284.1,997.5 285.1,1004.7M284.6,906.0 285.8,910.8M291.8,906.0 293.0,910.3M214.8,876.7 216.0,880.3 219.6,880.3M220.8,881.5 222.0,886.3 225.6,887.5M226.8,891.2 228.1,897.2M449.0,779.8 453.6,782.7 458.7,784.9 463.0,787.0 466.6,786.3 468.8,782.0 468.8,778.7M487.6,773.3 492.6,776.2 495.5,780.5 500.7,783.4M466.6,786.3 472.4,791.4 478.2,790.7 481.1,793.5 483.2,797.9M445.0,784.2 450.8,782.0 455.1,784.2 458.7,784.9M445.7,787.8 452.2,789.9 455.1,788.5 458.7,784.9M443.5,793.5 446.4,797.2 452.2,797.9 452.9,793.5 452.2,789.9M452.9,793.5 458.7,790.7 466.6,787.0M458.7,790.7 463.0,798.6 469.5,799.3 478.2,798.6 483.2,797.9M452.9,797.9 458.0,798.6 463.0,798.6M452.2,797.9 451.5,801.5 458.7,802.9 459.4,809.4 461.6,813.0M458.7,802.9 465.2,803.7 469.5,805.8 478.2,805.1 481.1,799.3M465.2,803.7 464.5,810.9 461.6,813.0 460.9,818.1M464.5,810.9 469.5,811.6 473.9,813.0M432.0,795.7 435.6,797.9 439.2,796.4 443.5,797.2 446.4,797.2M424.8,784.2 428.4,782.0 429.8,783.4M423.3,779.1 427.7,779.8 429.8,779.1M466.6,754.1 472.4,754.8 478.2,755.6M478.2,747.6 478.2,755.6 479.6,762.1 486.9,763.5M463.0,765.0 468.1,766.4 475.3,763.5 479.6,762.1M460.9,767.8 466.6,769.3 469.5,770.7 468.8,778.7M469.5,770.7 475.3,767.8 475.3,763.5M468.8,778.7 478.2,779.4 486.9,778.7 489.7,772.2 486.9,763.5M395.2,812.3 400.2,813.0 399.5,818.1 398.8,823.9M440.1,749.9 442.5,739.1 446.1,727.1 449.7,715.0 454.5,703.0 461.7,697.0 466.6,699.4 469.0,707.8 469.0,716.3M466.6,699.4 472.6,698.2 473.8,692.2 478.6,689.8 482.2,692.2 483.4,703.0 482.2,715.0 485.8,729.5 482.2,739.1M411.4,830.0 412.4,838.7 396.0,847.3 395.0,851.2 388.3,855.0 387.3,861.8 378.7,866.6M396.0,847.3 396.0,852.1 401.8,857.9 402.7,880.1 388.3,881.0 385.4,876.2 377.7,878.1M396.0,852.1 423.9,871.4 425.8,872.4 443.2,860.8 436.4,855.0 437.4,843.5 439.3,837.7 433.5,830.0M437.4,843.5 441.2,837.7M443.2,860.8 448.9,862.7 470.1,870.4 471.1,865.6 471.1,840.6M448.9,862.7 451.8,871.4 449.9,880.1 446.0,884.9M471.1,865.6 498.0,865.6M470.1,870.4 469.2,880.1 466.3,885.8 469.2,893.5 466.3,891.6M425.8,872.4 423.9,881.0 416.2,882.9 418.1,887.8 423.9,885.8M402.7,880.1 405.6,885.8 416.2,882.9M405.6,885.8 403.7,891.6 397.9,893.5 398.9,905.1M403.7,891.6 409.5,891.6 409.5,903.2M416.2,882.9 417.2,891.6 409.5,891.6M417.2,891.6 418.1,902.8M377.7,878.1 388.3,881.0 389.3,887.8 395.0,888.7 397.9,893.5M377.7,885.8 385.4,887.8 389.3,887.8M389.3,893.5 395.0,895.5 397.0,904.1M448.9,891.6 450.9,898.3 466.3,891.6 472.0,896.4 476.9,904.1M450.9,898.3 448.9,905.1 456.6,906.0 458.6,904.1 466.3,903.2 476.9,904.1M472.0,896.4 485.5,892.6 489.4,888.7 493.2,893.5 492.3,899.3 502.8,908.0 508.6,907.0 513.4,897.4 524.0,897.4M498.0,865.6 502.8,876.2 498.0,882.9 493.2,893.5M502.8,876.2 513.4,887.8M476.9,904.1 483.6,914.7 480.7,924.3 483.6,930.1 480.7,943.6M483.6,914.7 489.4,908.0 493.2,907.0 495.1,912.8 492.3,918.6M508.6,907.0 508.6,919.5 502.8,926.3 492.3,920.5M502.8,926.3 504.8,930.1M448.9,905.1 447.0,910.9 437.4,910.9M447.0,910.9 446.0,920.5 442.2,922.4M456.6,906.0 454.7,912.8 450.9,920.5 446.0,926.3 444.1,930.1M446.0,926.3 454.7,930.1 455.7,934.0 464.3,934.0 466.3,943.6M433.5,907.0 436.4,903.2 442.2,900.3M442.5,955.3 462.9,957.0 467.8,957.7 473.8,957.0M462.9,957.0 460.5,983.0 453.3,984.2M443.7,928.9 452.1,930.1 453.3,933.7 464.2,931.3 465.4,940.9 469.0,940.9 467.8,957.7M469.0,940.9 479.8,944.5 482.2,936.1 493.0,937.3 494.2,945.7 491.8,949.3 482.2,952.9 473.8,957.0M473.8,957.0 481.0,966.2 473.8,975.8 465.4,978.2 462.9,974.6 461.7,957.7M482.2,952.9 490.6,954.1 489.4,961.4 487.0,967.4 481.0,966.2M487.0,967.4 487.5,977.0 489.4,979.4M493.0,937.3 495.4,942.1 506.3,939.7M490.6,938.5 493.0,944.5 495.4,951.7 493.0,954.1M482.2,916.8 481.0,925.3 487.0,934.9 493.0,937.3M493.0,919.2 503.9,926.5 506.3,922.8M476.9,986.1 479.3,983.7 481.7,986.1 479.3,988.6 476.9,986.1M485.6,978.2 487.0,976.8 488.5,978.2 487.0,979.6 485.6,978.2M436.5,913.2 446.1,913.2 447.3,920.4 440.1,921.6M521.0,789.5 521.8,784.4 526.1,780.1 533.3,778.7 539.1,782.3 543.4,780.8 550.6,781.6 553.5,777.9 552.1,774.3 553.5,770.0M542.0,801.0 547.8,800.3 553.5,803.2 559.3,806.1 565.1,807.5 566.5,813.3 570.9,814.8 576.6,811.9 582.4,808.3 591.1,808.3 596.9,809.7M536.2,811.9 541.3,813.3 542.0,801.0M541.3,813.3 544.9,810.4 550.6,809.7 553.5,813.3 559.3,816.2 565.1,823.4 562.2,825.6M565.1,807.5 568.0,814.8 572.3,817.7 576.6,816.2 582.4,819.8M570.9,814.8 573.0,819.1 576.6,819.8 579.5,824.2M588.2,770.0 594.0,775.8 596.9,780.1 602.6,782.3 610.7,785.9M508.1,807.5 513.1,810.4 518.9,811.9 523.2,812.6M513.8,813.3 520.3,813.3 521.0,818.4M490.0,775.8 494.3,780.1 500.1,783.7 505.9,787.3 504.4,792.4 498.7,795.3M510.2,827.0 508.8,833.5 498.7,837.9 495.1,835.0M503.0,839.6 508.8,833.5M517.4,827.8 518.9,830.6 521.0,835.0 523.9,839.3M495.8,830.6 497.9,831.4 497.2,837.9 495.1,839.3M553.5,827.0 557.9,829.2 562.2,825.6 566.5,824.2 570.9,824.9 576.6,825.6 579.5,824.2 583.9,825.6M513.9,876.9 519.0,876.2 523.3,876.9 526.2,874.8 530.5,874.0 535.6,872.6M533.4,871.9 535.6,877.7M539.9,864.7 542.1,861.0 542.8,855.3M497.3,830.0 493.7,844.4M479.3,865.4 496.6,865.4M583.2,770.0 594.1,777.2 598.9,782.0 606.1,783.2 612.8,788.1M612.8,788.1 620.5,784.4 630.2,782.0 639.8,778.4 647.0,780.8 656.6,784.4 666.3,786.8 675.9,785.6 678.3,788.8M638.6,869.9 642.2,873.5 647.0,872.3 651.8,875.9 654.2,881.9 649.4,883.1 648.2,885.5M650.6,869.9 651.8,875.9M639.8,877.1 642.2,871.1 647.0,866.3M693.9,820.5 698.8,819.3 702.4,823.4 700.0,824.9"/>
</svg>
<!-- /MAP -->
</div>
<div id="attr" class="abs">© 2019 Mapbox © OpenStreetMap</div>

<div id="note" class="abs">Note: Percent distributions may not sum to 100.0 because of rounding.</div>
<div id="cite" class="abs"><b>Suggested citation</b>: Institute of International Education. (2019). "Top 25 Places of Origin of International Students,<br>2012/13-2018/19." <i>Open Doors Report on International Educational Exchange</i>. Retrieved from <a>http://www.iie.org/opendoors</a></div>

<!-- FOOTER -->
<svg class="abs" style="left:0;top:1140px" width="831" height="96" viewBox="0 1140 831 96">
<rect x="58" y="1162.6" width="100.8" height="53.3" fill="#fff"/>
<rect x="58" y="1162.60" width="100.8" height="4.10" fill="#d9334a"/>
<rect x="58" y="1170.80" width="100.8" height="4.10" fill="#d9334a"/>
<rect x="58" y="1179.00" width="100.8" height="4.10" fill="#d9334a"/>
<rect x="58" y="1187.20" width="100.8" height="4.10" fill="#d9334a"/>
<rect x="58" y="1195.40" width="100.8" height="4.10" fill="#d9334a"/>
<rect x="58" y="1203.60" width="100.8" height="4.10" fill="#d9334a"/>
<rect x="58" y="1211.80" width="100.8" height="4.10" fill="#d9334a"/>
<rect x="58" y="1162.6" width="40.7" height="28.70" fill="#1d4079"/>
<path d="M60.49,1165.47h1.8M61.39,1164.57v1.8M67.27,1165.47h1.8M68.17,1164.57v1.8M74.06,1165.47h1.8M74.96,1164.57v1.8M80.84,1165.47h1.8M81.74,1164.57v1.8M87.62,1165.47h1.8M88.53,1164.57v1.8M94.41,1165.47h1.8M95.31,1164.57v1.8M63.88,1168.34h1.8M64.78,1167.44v1.8M70.67,1168.34h1.8M71.57,1167.44v1.8M77.45,1168.34h1.8M78.35,1167.44v1.8M84.23,1168.34h1.8M85.13,1167.44v1.8M91.02,1168.34h1.8M91.92,1167.44v1.8M60.49,1171.21h1.8M61.39,1170.31v1.8M67.27,1171.21h1.8M68.17,1170.31v1.8M74.06,1171.21h1.8M74.96,1170.31v1.8M80.84,1171.21h1.8M81.74,1170.31v1.8M87.62,1171.21h1.8M88.53,1170.31v1.8M94.41,1171.21h1.8M95.31,1170.31v1.8M63.88,1174.08h1.8M64.78,1173.18v1.8M70.67,1174.08h1.8M71.57,1173.18v1.8M77.45,1174.08h1.8M78.35,1173.18v1.8M84.23,1174.08h1.8M85.13,1173.18v1.8M91.02,1174.08h1.8M91.92,1173.18v1.8M60.49,1176.95h1.8M61.39,1176.05v1.8M67.27,1176.95h1.8M68.17,1176.05v1.8M74.06,1176.95h1.8M74.96,1176.05v1.8M80.84,1176.95h1.8M81.74,1176.05v1.8M87.62,1176.95h1.8M88.53,1176.05v1.8M94.41,1176.95h1.8M95.31,1176.05v1.8M63.88,1179.82h1.8M64.78,1178.92v1.8M70.67,1179.82h1.8M71.57,1178.92v1.8M77.45,1179.82h1.8M78.35,1178.92v1.8M84.23,1179.82h1.8M85.13,1178.92v1.8M91.02,1179.82h1.8M91.92,1178.92v1.8M60.49,1182.69h1.8M61.39,1181.79v1.8M67.27,1182.69h1.8M68.17,1181.79v1.8M74.06,1182.69h1.8M74.96,1181.79v1.8M80.84,1182.69h1.8M81.74,1181.79v1.8M87.62,1182.69h1.8M88.53,1181.79v1.8M94.41,1182.69h1.8M95.31,1181.79v1.8M63.88,1185.56h1.8M64.78,1184.66v1.8M70.67,1185.56h1.8M71.57,1184.66v1.8M77.45,1185.56h1.8M78.35,1184.66v1.8M84.23,1185.56h1.8M85.13,1184.66v1.8M91.02,1185.56h1.8M91.92,1184.66v1.8M60.49,1188.43h1.8M61.39,1187.53v1.8M67.27,1188.43h1.8M68.17,1187.53v1.8M74.06,1188.43h1.8M74.96,1187.53v1.8M80.84,1188.43h1.8M81.74,1187.53v1.8M87.62,1188.43h1.8M88.53,1187.53v1.8M94.41,1188.43h1.8M95.31,1187.53v1.8" stroke="#e6ebf3" stroke-width="0.9" fill="none"/>
<circle cx="295.5" cy="1188.1" r="36.4" fill="#e9d98a"/>
<circle cx="295.5" cy="1188.1" r="35.2" fill="#1a1f5e"/>
<circle cx="295.5" cy="1188.1" r="27.6" fill="#fff"/>
<defs><path id="arcT" d="M265.7,1188.1 A29.8,29.8 0 0 1 325.3,1188.1"/><path id="arcB" d="M261.7,1188.1 A33.8,33.8 0 0 0 329.3,1188.1"/></defs>
<text font-family="'Liberation Serif',serif" font-weight="bold" font-style="italic" font-size="7.1" fill="#d2af3f"><textPath href="#arcT" startOffset="50%" text-anchor="middle" textLength="76" lengthAdjust="spacingAndGlyphs">DEPARTMENT OF STATE</textPath></text>
<text font-family="'Liberation Serif',serif" font-weight="bold" font-style="italic" font-size="7.1" fill="#d2af3f"><textPath href="#arcB" startOffset="50%" text-anchor="middle" textLength="88" lengthAdjust="spacingAndGlyphs">UNITED STATES OF AMERICA</textPath></text>
<circle cx="264.0" cy="1184.1" r="1.1" fill="#c9a63b"/><circle cx="327.0" cy="1184.1" r="1.1" fill="#c9a63b"/>
<circle cx="296.1" cy="1171.1" r="8.6" fill="#f4f4f4" stroke="#d8d8d8" stroke-width="0.5"/>
<circle cx="296.1" cy="1171.1" r="6.6" fill="#5cb3e3"/>
<path d="M274.5,1175.1 C283.5,1177.1 288.5,1183.1 291.5,1190.1 L290.5,1202.1 C286.5,1201.1 282.5,1196.1 280.5,1190.1 C278.5,1185.1 278.5,1180.1 274.5,1175.1Z" fill="#6a4423"/>
<path d="M317.5,1175.1 C308.5,1177.1 303.5,1183.1 300.5,1190.1 L301.5,1202.1 C305.5,1201.1 309.5,1196.1 311.5,1190.1 C313.5,1185.1 313.5,1180.1 317.5,1175.1Z" fill="#6a4423"/>
<path d="M290.5,1186.1 C291.5,1180.1 300.5,1180.1 301.5,1186.1 L303.5,1202.1 L308.5,1206.1 L301.5,1207.1 L296.5,1205.1 L290.5,1207.1 L284.5,1206.1 L288.5,1202.1Z" fill="#5b3a1e"/>
<path d="M289.5,1205.1 L296.0,1214.1 L302.5,1205.1 L296.0,1203.1Z" fill="#d9d9d9"/>
<ellipse cx="296.0" cy="1181.6" rx="3.2" ry="3.6" fill="#f3f3f3"/>
<ellipse cx="289.0" cy="1187.6" rx="2.4" ry="2.2" fill="#f6f6f6"/><ellipse cx="303.5" cy="1187.6" rx="2.4" ry="2.2" fill="#f6f6f6"/>
<path d="M280.5,1170.1 C284.5,1176.1 288.5,1180.1 292.5,1182.1 M311.5,1170.1 C307.5,1176.1 303.5,1180.1 299.5,1182.1" stroke="#d8b92c" stroke-width="2.2" fill="none" stroke-linecap="round"/>
<path d="M290.3,1190.1 h11.2 v9 c0,2.4 -3,4 -5.6,5 c-2.6,-1 -5.6,-2.6 -5.6,-5Z" fill="#fff"/>
<path d="M290.3,1190.1 h11.2 v3.4 h-11.2Z" fill="#2b3a8f"/>
<path d="M291.2,1193.5v8M293.4,1193.5v9.6M295.8,1193.5v10.4M298.1,1193.5v9.6M300.4,1193.5v8" stroke="#d83a4a" stroke-width="1.25" fill="none"/>
<path d="M272.5,1190.1 l4,2 l-1,3 l4,1 l-1,3 l4,2 l-2,3 l3,4 l-3,1 l-4,-4 l-4,-3 l1,-3 l-3,-2 l2,-3Z" fill="#2f8a3c"/>
<path d="M283.5,1204.1 l3,6" stroke="#2f8a3c" stroke-width="1.2"/>
<path d="M319.5,1189.1 l-8,9 l-4,6 l3,2 l5,-7 l5,-8Z" fill="#8d8d8d"/>
<circle cx="285.5" cy="1202.6" r="1.8" fill="#d8b92c"/><circle cx="309.0" cy="1202.6" r="1.8" fill="#d8b92c"/>
<path d="M446.1,1156.9 453.5,1179.4 477.2,1179.5 458.1,1193.5 455.5,1196.5 447.0,1204.0 446.1,1202.2 426.9,1216.1 434.1,1193.5 415.0,1179.5 438.7,1179.4Z" fill="#1b3b6b"/>
<path d="M445.8,1173 C448.5,1177.5 447.2,1181 449.8,1184.5 C451.6,1187 451.8,1189.5 450.6,1191.5 L456,1189.6 L457.8,1194.6 L447.6,1202.6 C443.4,1199.4 441.6,1195.6 443.8,1191.4 C442.2,1188 445,1184.4 444.2,1180.4 C443.8,1177.6 444.6,1175 445.8,1173Z" fill="#fff"/>
<path d="M447.2,1203.4 L457.6,1195.2 L465.6,1216.4 Z" fill="#d22a3f"/>
<path d="M449,1205.5 L458.6,1198.2 M456,1208.8 L461.4,1204.6 M455.2,1207.6 L463.2,1213.6" stroke="#efefef" stroke-width="0.9" fill="none"/>
<text x="481.3" y="1191" font-family="'Liberation Sans',sans-serif" font-size="15.6" fill="#cc2a41" textLength="68.6" lengthAdjust="spacingAndGlyphs" stroke="#cc2a41" stroke-width="0.45">Education</text>
<text x="481.3" y="1212" font-family="'Liberation Sans',sans-serif" font-weight="bold" font-size="24.3" fill="#1b3b6b" textLength="53.5" lengthAdjust="spacingAndGlyphs" stroke="#1b3b6b" stroke-width="0.5">USA</text>
<circle cx="633.4" cy="1170.1" r="5.9" fill="#e63323"/><circle cx="651.2" cy="1170.1" r="5.9" fill="#e63323"/>
<circle cx="639.4" cy="1170.1" r="5.9" fill="#e63323" stroke="#efefef" stroke-width="0.8"/><circle cx="645.3" cy="1170.1" r="5.9" fill="#e63323" stroke="#efefef" stroke-width="0.8"/>
<rect x="628" y="1180" width="10.6" height="33.7" fill="#e63323"/><rect x="645" y="1180" width="11.4" height="33.7" fill="#e63323"/>
<text x="654.6" y="1213.7" font-family="'Liberation Sans',sans-serif" font-weight="bold" font-size="63" fill="#e63323" textLength="40" lengthAdjust="spacingAndGlyphs">e</text>
<text font-family="'Liberation Sans',sans-serif" font-size="11.3" fill="#5d7b96"><tspan x="701.5" y="1189.3">The Power</tspan><tspan x="701.5" y="1201.3">of International</tspan><tspan x="701.5" y="1213.3">Education</tspan></text>
<g font-family="'Liberation Sans','Noto Sans CJK SC',sans-serif" font-size="20.6" fill="#1a1a1a" stroke="#1a1a1a" stroke-width="0.5" transform="translate(1.2,1.2)"><text x="643.6" y="1213.6" textLength="40.5" lengthAdjust="spacingAndGlyphs">头条</text><text x="686.4" y="1213.6" textLength="124.8" lengthAdjust="spacingAndGlyphs">@教育匠erS</text></g>
<g font-family="'Liberation Sans','Noto Sans CJK SC',sans-serif" font-size="20.6" fill="#fff" stroke="#fff" stroke-width="0.5"><text x="643.6" y="1213.6" textLength="40.5" lengthAdjust="spacingAndGlyphs">头条</text><text x="686.4" y="1213.6" textLength="124.8" lengthAdjust="spacingAndGlyphs">@教育匠erS</text></g>
</svg>
<!-- /FOOTER -->
</body>
</html>
